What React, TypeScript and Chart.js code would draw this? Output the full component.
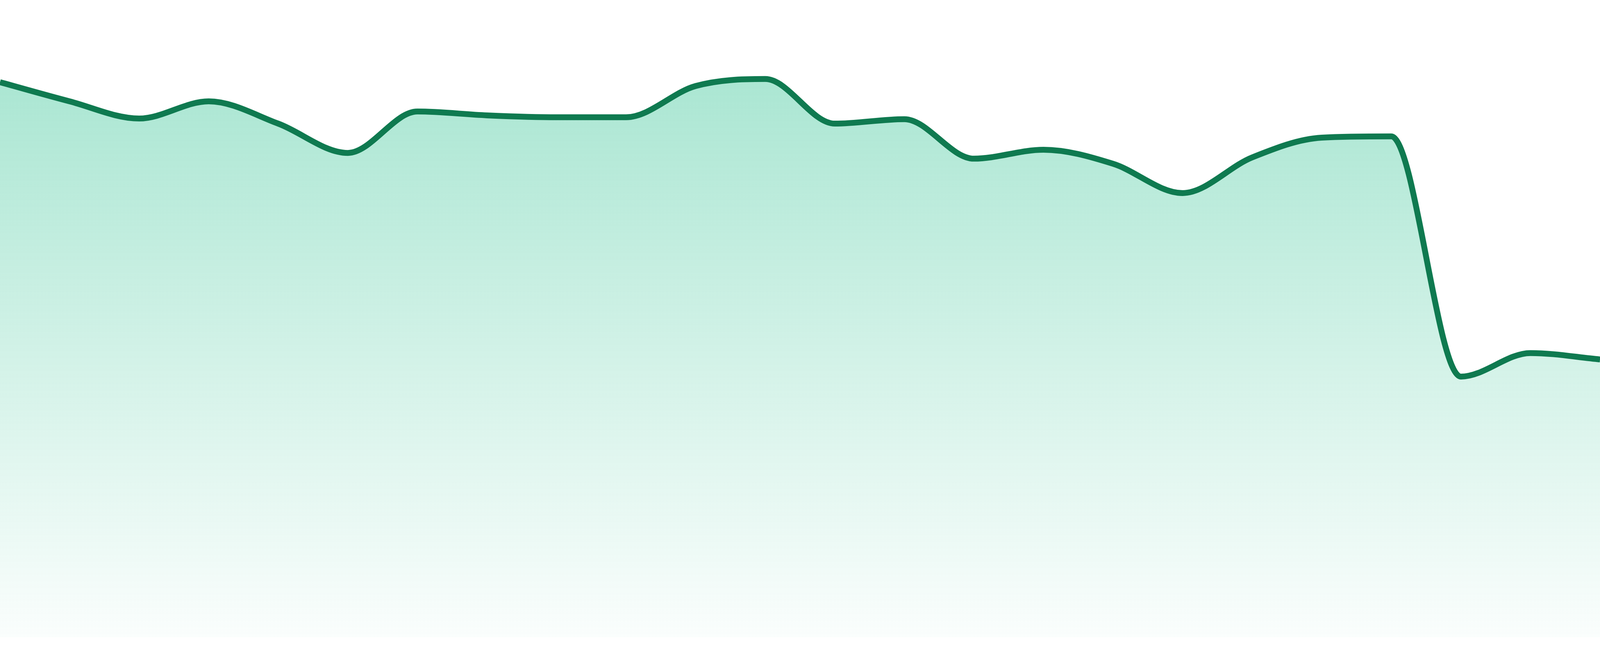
import React, { useEffect, useRef } from "react";
import { Chart, registerables } from "chart.js";

Chart.register(...registerables);

const labels: string[] = [
  "1", "2", "3", "4", "5", "6", "7", "8", "9", "10", "11", "12",
  "13", "14", "15", "16", "17", "18", "19", "20", "21", "22", "23", "24",
];

const values: number[] = [
  87.1, 84.1, 81.4, 84.1, 80.6, 76.0, 82.5, 81.9, 81.6, 81.6, 86.5, 87.6,
  80.6, 81.3, 75.1, 76.5, 74.3, 69.7, 75.3, 78.4, 78.6, 40.9, 44.6, 43.6,
];

const yMin = 0;
const yMax = 100;

export default function App() {
  const canvasRef = useRef<HTMLCanvasElement | null>(null);

  useEffect(() => {
    document.body.style.margin = "0";
    if (!canvasRef.current) return;
    const h = window.innerHeight || 1680;
    const chart = new Chart(canvasRef.current, {
      type: "line",
      data: {
        labels,
        datasets: [
          {
            data: values,
            borderColor: "#0f7a50",
            borderWidth: 15,
            pointRadius: 0,
            pointHoverRadius: 0,
            cubicInterpolationMode: "monotone",
            fill: "start",
            backgroundColor: (ctx: any) => {
              const { chart } = ctx;
              const area = chart.chartArea;
              if (!area) return "rgba(16,185,129,0.3)";
              const g = chart.ctx.createLinearGradient(0, area.top, 0, area.bottom);
              g.addColorStop(0, "rgba(16,185,129,0.40)");
              g.addColorStop(1, "rgba(16,185,129,0.02)");
              return g;
            },
          },
        ],
      },
      options: {
        animation: false,
        responsive: true,
        maintainAspectRatio: false,
        layout: { padding: { left: 0, right: 0, top: 0, bottom: Math.round((h * 48) / 1680) } },
        plugins: {
          legend: { display: false },
          tooltip: { enabled: false },
        },
        scales: {
          x: { display: false, offset: false },
          y: { display: false, min: yMin, max: yMax },
        },
      },
    });
    return () => chart.destroy();
  }, []);

  return (
    <div
      style={{
        position: "fixed",
        left: 0,
        top: 0,
        width: "100vw",
        height: "100vh",
        background: "#ffffff",
      }}
    >
      <canvas ref={canvasRef} />
    </div>
  );
}
